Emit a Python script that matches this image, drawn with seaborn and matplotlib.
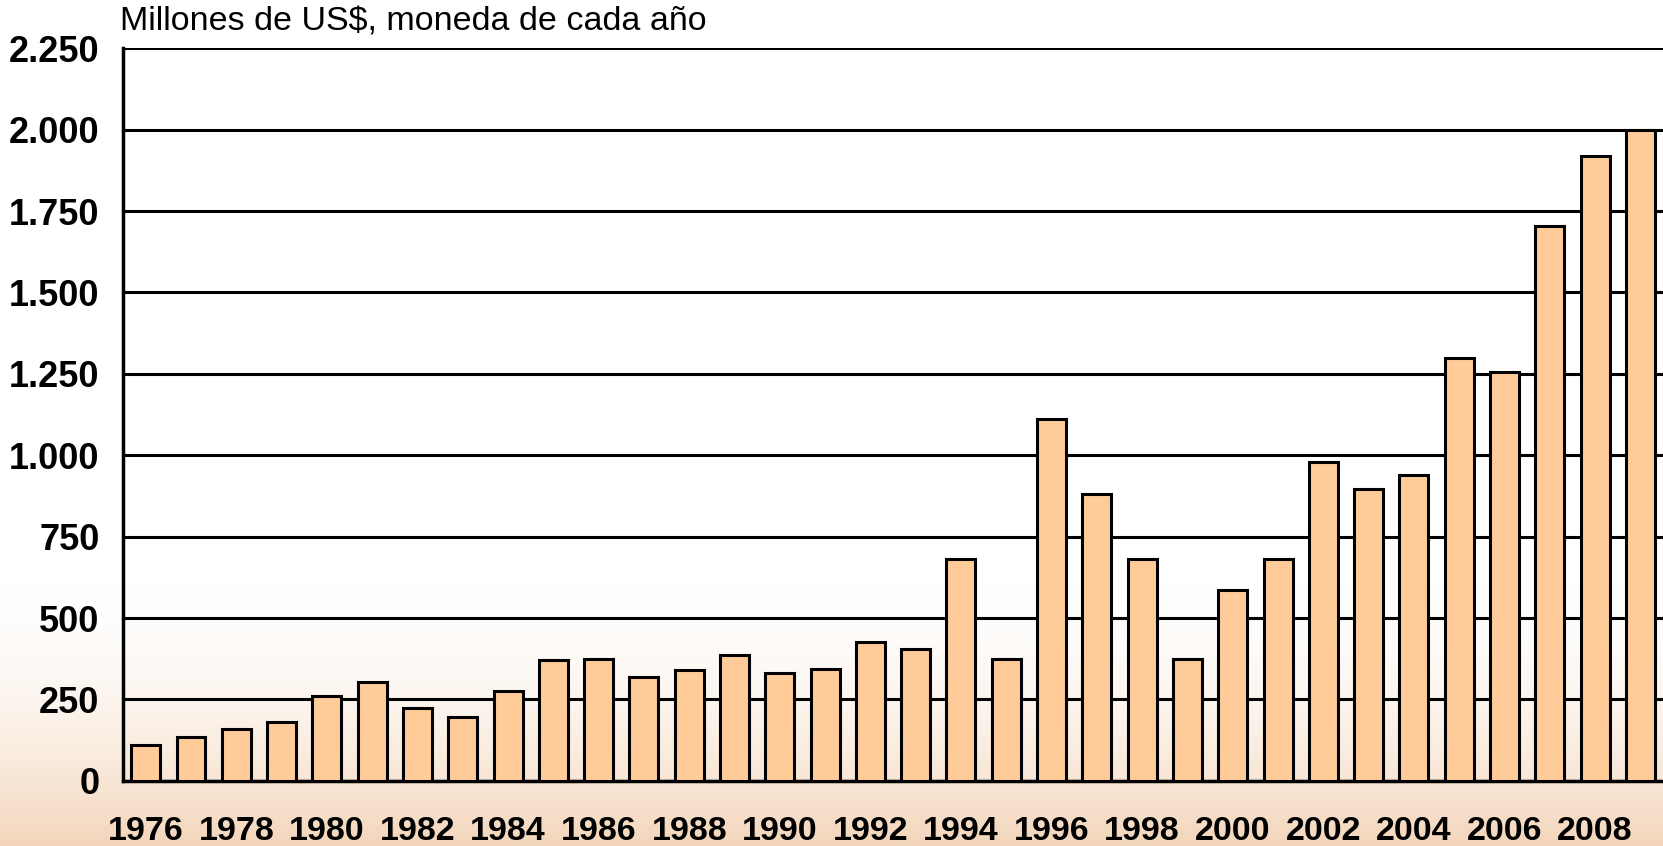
import numpy as np
import pandas as pd
import seaborn as sns
import matplotlib.pyplot as plt
from matplotlib.colors import LinearSegmentedColormap

# data (millones de US$)
years = list(range(1976, 2010))
values = [110, 135, 160, 180, 260, 305, 225, 195, 275, 370,
          375, 320, 340, 385, 330, 345, 425, 405, 680, 375,
          1110, 880, 680, 375, 585, 680, 980, 895, 940, 1300,
          1255, 1705, 1920, 2000]
y_ticks = [0, 250, 500, 750, 1000, 1250, 1500, 1750, 2000, 2250]
y_labels = ["0", "250", "500", "750", "1.000", "1.250", "1.500", "1.750", "2.000", "2.250"]
title = "Millones de US$, moneda de cada año"

df = pd.DataFrame({"year": [str(y) for y in years], "value": values})

sns.set_theme(style="white")
plt.rcParams["font.family"] = ["Liberation Sans", "DejaVu Sans"]

fig = plt.figure(figsize=(16.63, 8.46), dpi=100)

# faint peach wash at the bottom, like the slide background
bg = fig.add_axes([0, 0, 1, 1], zorder=-10)
grad = np.linspace(0, 1, 300)[:, None]
grad = np.clip((grad - 0.68) / 0.32, 0, 1) ** 1.8
cmap = LinearSegmentedColormap.from_list("wash", ["#ffffff", "#f3d6bb"])
bg.imshow(grad, aspect="auto", cmap=cmap, extent=[0, 1, 0, 1], origin="upper")
bg.axis("off")

ax = fig.add_axes([0.074, 0.077, 0.926, 0.866])
ax.patch.set_alpha(0)

sns.barplot(data=df, x="year", y="value", color="#FFCC99", saturation=1,
            width=0.64, edgecolor="black", linewidth=2.2, ax=ax, zorder=3)

ax.set_ylim(0, 2250)
ax.set_xlim(-0.5, 33.27)
ax.set_yticks(y_ticks)
ax.set_yticklabels(y_labels, fontsize=26, fontweight="bold")
ax.yaxis.grid(True, color="black", linewidth=2.2)
ax.set_axisbelow(True)

n = len(years)
ax.set_xticks(range(0, n, 2))
ax.set_xticklabels([str(y) for y in years[::2]], fontsize=24.5, fontweight="bold")
ax.set_xticks(np.arange(-0.5, n, 1.0), minor=True)
ax.tick_params(axis="x", which="major", length=0, pad=25)
ax.tick_params(axis="x", which="minor", length=10, width=2, color="black", direction="out")
ax.tick_params(axis="y", length=8, width=2, color="black", direction="out", pad=9)
ax.tick_params(colors="black")

for s in ["top", "right"]:
    ax.spines[s].set_visible(False)
for s in ["left", "bottom"]:
    ax.spines[s].set_color("black")
    ax.spines[s].set_linewidth(2.5)

ax.set_xlabel("")
ax.set_ylabel("")
fig.text(0.072, 0.974, title, fontsize=24.5, ha="left", va="center", color="black")

fig.savefig("out.png", dpi=100)
